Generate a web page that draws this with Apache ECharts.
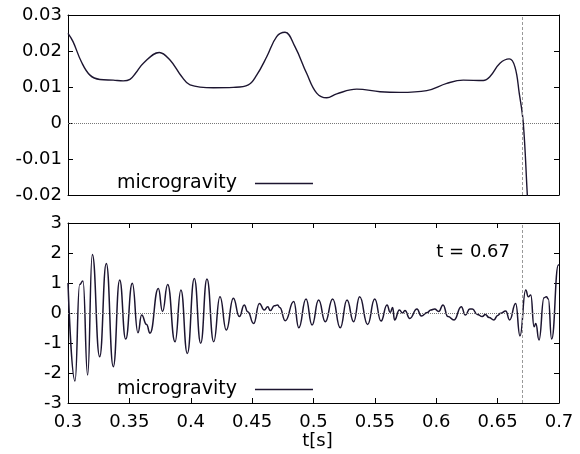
<!DOCTYPE html>
<html>
<head>
<meta charset="utf-8">
<script src="https://cdn.jsdelivr.net/npm/echarts@6/dist/echarts.min.js"></script>
<style>
html,body{margin:0;padding:0;background:#fff;}
#chart{width:580px;height:454px;}
</style>
</head>
<body>
<div id="chart"></div>
<script>
// ---- data ----
const seriesName = 'microgravity';
const eventTime = 0.67;
const eventLabel = 't = 0.67';
const xAxisName = 't[s]';

const tTop = [0.3000,0.3041,0.3109,0.3179,0.3260,0.3369,0.3450,0.3505,0.3550,0.3614,0.3744,0.3831,0.3926,0.3994,0.4184,0.4347,0.4469,0.4537,0.4619,0.4700,0.4768,0.4849,0.4944,0.5026,0.5108,0.5189,0.5352,0.5542,0.5705,0.5923,0.6086,0.6220,0.6383,0.6438,0.6519,0.6595,0.6641,0.6676,0.6709,0.6742,0.6760];
const vTop = [0.0249,0.0226,0.0170,0.0133,0.0121,0.0119,0.0117,0.0121,0.0138,0.0166,0.0196,0.0175,0.0129,0.0106,0.0098,0.0099,0.0106,0.0133,0.0184,0.0240,0.0252,0.0212,0.0138,0.0083,0.0070,0.0081,0.0094,0.0087,0.0085,0.0090,0.0110,0.0119,0.0118,0.0129,0.0166,0.0178,0.0156,0.0083,0.0000,-0.0200,-0.0300];

const tBottom = [0.3000,0.3057,0.3095,0.3122,0.3160,0.3198,0.3258,0.3312,0.3369,0.3421,0.3470,0.3524,0.3570,0.3600,0.3640,0.3668,0.3736,0.3770,0.3812,0.3872,0.3920,0.3972,0.4029,0.4081,0.4132,0.4187,0.4238,0.4290,0.4347,0.4396,0.4436,0.4464,0.4513,0.4559,0.4599,0.4627,0.4648,0.4681,0.4708,0.4725,0.4770,0.4839,0.4880,0.4939,0.4988,0.5042,0.5096,0.5156,0.5218,0.5273,0.5327,0.5376,0.5441,0.5499,0.5550,0.5599,0.5625,0.5645,0.5660,0.5700,0.5725,0.5745,0.5784,0.5843,0.5878,0.5927,0.5955,0.5987,0.6020,0.6055,0.6095,0.6145,0.6204,0.6237,0.6273,0.6294,0.6335,0.6375,0.6400,0.6430,0.6470,0.6500,0.6525,0.6566,0.6598,0.6647,0.6682,0.6729,0.6750,0.6770,0.6797,0.6811,0.6837,0.6878,0.6897,0.6913,0.6940,0.6995,0.7000];
const vBottom = [1.00,-2.27,0.95,1.07,-2.07,1.95,-1.46,1.65,-1.79,1.10,-0.87,0.99,-0.66,-0.07,-0.38,-0.67,0.82,0.05,0.95,-0.96,0.77,-1.35,1.15,-1.01,1.13,-0.96,0.54,-0.57,0.49,-0.12,0.27,0.04,-0.35,0.32,0.10,0.21,0.08,0.24,0.27,0.18,-0.26,0.38,-0.49,0.47,-0.40,0.43,-0.29,0.47,-0.49,0.43,-0.29,0.54,-0.38,0.47,-0.27,0.27,0.02,0.18,-0.23,0.10,0.00,0.08,-0.18,0.13,-0.10,0.02,0.10,0.13,0.05,0.27,-0.12,-0.23,0.21,-0.07,0.13,0.13,-0.05,-0.12,-0.05,-0.15,-0.23,-0.08,-0.01,0.07,-0.23,0.32,-0.76,0.77,0.54,0.60,-0.46,-0.35,-0.90,0.51,0.54,0.47,-0.87,1.60,1.62];

const xTicks = {min:0.3, max:0.7, interval:0.05};
const yTopTicks = {min:-0.02, max:0.03, interval:0.01};
const yBottomTicks = {min:-3, max:3, interval:1};

// ---- chart ----
const FONT = 'DejaVu Sans';
const lineColor = '#1c1530';
const zip = (a,b) => a.map((v,i)=>[v,b[i]]);

const chart = echarts.init(document.getElementById('chart'), null, {renderer:'canvas'});

function xAxisDef(gridIndex, showLabels, showTicks, position){
  return {
    type:'value', gridIndex, position, min:xTicks.min, max:xTicks.max, interval:xTicks.interval,
    axisLine:{show:true, onZero:false, lineStyle:{color:'#000', width:1}},
    axisTick:{show:showTicks, inside:true, length:5, lineStyle:{color:'#000'}},
    axisLabel:{show:showLabels, color:'#000', fontFamily:FONT, fontSize:18, margin:10,
      formatter: v => String(+v.toFixed(2))},
    splitLine:{show:false}
  };
}
function yAxisDef(gridIndex, t, showLabels, position){
  return {
    type:'value', gridIndex, position, min:t.min, max:t.max, interval:t.interval,
    axisLine:{show:true, onZero:false, lineStyle:{color:'#000', width:1}},
    axisTick:{show:true, inside:true, length:5, lineStyle:{color:'#000'}},
    axisLabel:{show:showLabels, color:'#000', fontFamily:FONT, fontSize:18, margin:6,
      formatter: v => String(+v.toFixed(2))},
    splitLine:{show:false}
  };
}

const markLines = {
  silent:true, symbol:['none','none'], animation:false,
  label:{show:false},
  data:[
    {yAxis:0, lineStyle:{type:'dotted', color:'#777', width:1}},
    {xAxis:eventTime, lineStyle:{type:[3,2], color:'#999', width:1}}
  ]
};

const topX = xAxisDef(0,false,false,'bottom');
const topX2 = xAxisDef(0,false,false,'top');
const botX = xAxisDef(1,true,true,'bottom');
botX.name = xAxisName;
botX.nameLocation = 'middle';
botX.nameGap = 26;
botX.nameTextStyle = {color:'#000', fontFamily:FONT, fontSize:18, padding:[0,0,0,8]};
const botX2 = xAxisDef(1,false,true,'top');

const legendDef = (top) => ({
  left:112, top, align:'right', icon:'rect', itemWidth:58, itemHeight:1.3,
  data:[seriesName], selectedMode:false,
  itemStyle:{color:lineColor, borderWidth:0},
  textStyle:{color:'#000', fontFamily:FONT, fontSize:19, padding:[0,13,0,0]}
});

const option = {
  animation:false,
  backgroundColor:'#fff',
  grid:[
    {left:68, right:21, top:15, height:180},
    {left:68, right:21, top:223, height:180}
  ],
  xAxis:[topX, topX2, botX, botX2],
  yAxis:[
    yAxisDef(0,yTopTicks,true,'left'), yAxisDef(0,yTopTicks,false,'right'),
    yAxisDef(1,yBottomTicks,true,'left'), yAxisDef(1,yBottomTicks,false,'right')
  ],
  legend:[legendDef(169), legendDef(375)],
  graphic:[
    {type:'text', right:70, top:243, style:{text:eventLabel, fill:'#000', font:'18px "DejaVu Sans"'}}
  ],
  series:[
    {name:seriesName, type:'line', xAxisIndex:0, yAxisIndex:0, data:zip(tTop,vTop),
     symbol:'none', smooth:0.4, clip:true, lineStyle:{color:lineColor, width:1.4}, itemStyle:{color:lineColor},
     markLine:markLines},
    {name:seriesName, type:'line', xAxisIndex:2, yAxisIndex:2, data:zip(tBottom,vBottom),
     symbol:'none', smooth:0.5, smoothMonotone:'x', clip:true, lineStyle:{color:lineColor, width:1.5}, itemStyle:{color:lineColor},
     markLine:markLines}
  ]
};
chart.setOption(option);
</script>
</body>
</html>
